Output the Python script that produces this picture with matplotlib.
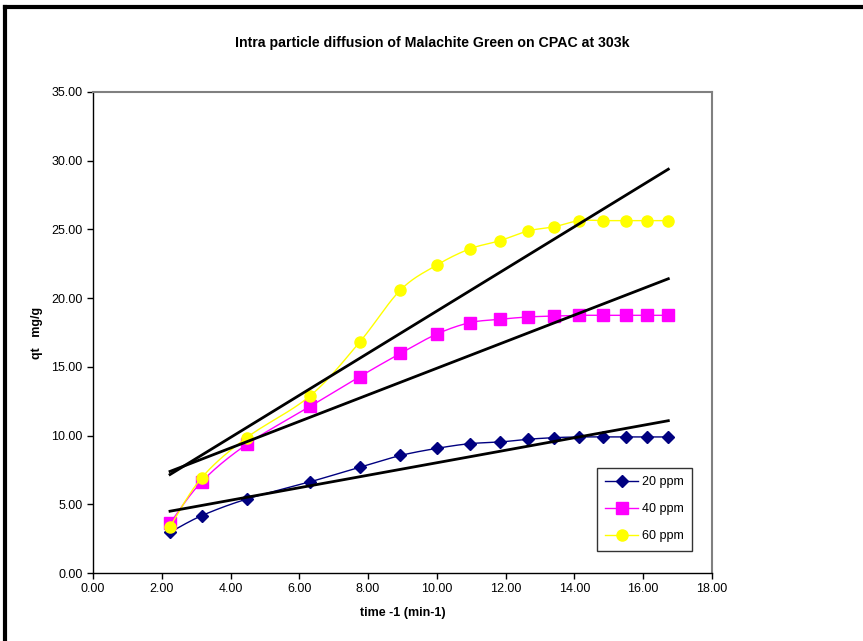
import numpy as np
import matplotlib.pyplot as plt
from matplotlib.lines import Line2D

plt.rcParams['font.family'] = ['Liberation Sans', 'DejaVu Sans']

# sqrt(t) values
x_vals = [2.24, 3.16, 4.47, 6.32, 7.75, 8.94, 10.00, 10.95, 11.83, 12.65,
          13.42, 14.14, 14.83, 15.49, 16.12, 16.73]

qt_20 = [2.96, 4.17, 5.38, 6.64, 7.69, 8.55, 9.07, 9.41, 9.53, 9.73,
         9.85, 9.90, 9.90, 9.90, 9.90, 9.90]
qt_40 = [3.62, 6.64, 9.36, 12.13, 14.28, 15.98, 17.39, 18.21, 18.46, 18.63,
         18.70, 18.75, 18.75, 18.75, 18.75, 18.75]
qt_60 = [3.37, 6.93, 9.85, 12.90, 16.79, 20.59, 22.41, 23.58, 24.18, 24.89,
         25.20, 25.64, 25.64, 25.64, 25.64, 25.64]

labels = ['20 ppm', '40 ppm', '60 ppm']
colors = ['#000080', '#FF00FF', '#FFFF00']
markers = ['D', 's', 'o']
msizes = [6, 8, 8]


def smooth(xs, ys, n=20):
    # catmull-rom style curve through the points (like Excel's smoothed line)
    xs = np.asarray(xs, float)
    ys = np.asarray(ys, float)
    px = np.concatenate([[xs[0]], xs, [xs[-1]]])
    py = np.concatenate([[ys[0]], ys, [ys[-1]]])
    t = np.linspace(0, 1, n)
    out_x, out_y = [], []
    for i in range(1, len(px) - 2):
        for p, o in ((px, out_x), (py, out_y)):
            p0, p1, p2, p3 = p[i - 1], p[i], p[i + 1], p[i + 2]
            c1 = p1 + (p2 - p0) / 6
            c2 = p2 - (p3 - p1) / 6
            o.extend((1 - t) ** 3 * p1 + 3 * (1 - t) ** 2 * t * c1
                     + 3 * (1 - t) * t ** 2 * c2 + t ** 3 * p2)
    return out_x, out_y


fig = plt.figure(figsize=(8.63, 6.41), dpi=100)
ax = fig.add_axes([93 / 863, 68 / 641, 619 / 863, 481 / 641])

series = [qt_20, qt_40, qt_60]
x = np.array(x_vals)
handles = []
for y, lab, c, m, ms in zip(series, labels, colors, markers, msizes):
    sx, sy = smooth(x, y)
    ax.plot(sx, sy, color=c, linewidth=1, zorder=3)
    ax.plot(x, y, color=c, marker=m, markersize=ms, linestyle='none', zorder=3)
    handles.append(Line2D([], [], color=c, marker=m, markersize=ms,
                          linewidth=1, label=lab))

# linear trend lines
for y in series:
    k, b = np.polyfit(x, y, 1)
    ax.plot([x[0], x[-1]], [k * x[0] + b, k * x[-1] + b], color='black',
            linewidth=2, zorder=4)

ax.set_xlim(0, 18)
ax.set_ylim(0, 35)
ax.set_xticks(np.arange(0, 19, 2))
ax.set_yticks(np.arange(0, 36, 5))
ax.xaxis.set_major_formatter(plt.FormatStrFormatter('%.2f'))
ax.yaxis.set_major_formatter(plt.FormatStrFormatter('%.2f'))
ax.tick_params(direction='out', length=4, labelsize=9, width=1, color='black')
for s in ['top', 'right']:
    ax.spines[s].set_color('#808080')
    ax.spines[s].set_linewidth(1.5)
for s in ['left', 'bottom']:
    ax.spines[s].set_color('black')
    ax.spines[s].set_linewidth(1)

ax.set_xlabel('time -1 (min-1)', fontsize=9, fontweight='bold', labelpad=8)
ax.set_ylabel('qt   mg/g', fontsize=9, fontweight='bold', labelpad=6)
fig.text(432 / 863, 1 - 43 / 641, 'Intra particle diffusion of Malachite Green on CPAC at 303k',
         ha='center', va='center', fontsize=10.2, fontweight='bold')

leg = ax.legend(handles=handles, loc='lower right',
                bbox_to_anchor=(692 / 863, 90 / 641),
                bbox_transform=fig.transFigure, borderaxespad=0, fontsize=9,
                frameon=True, fancybox=False, edgecolor='black',
                handlelength=2.6, handletextpad=0.3, borderpad=0.7,
                labelspacing=1.2)
leg.get_frame().set_linewidth(1)

# outer chart border (left and top)
fig.add_artist(Line2D([5 / 863, 5 / 863], [0, 1 - 7 / 641], color='black',
                      linewidth=3, transform=fig.transFigure))
fig.add_artist(Line2D([5 / 863, 1], [1 - 7 / 641, 1 - 7 / 641], color='black',
                      linewidth=3, transform=fig.transFigure))

fig.savefig('out.png', dpi=100)
